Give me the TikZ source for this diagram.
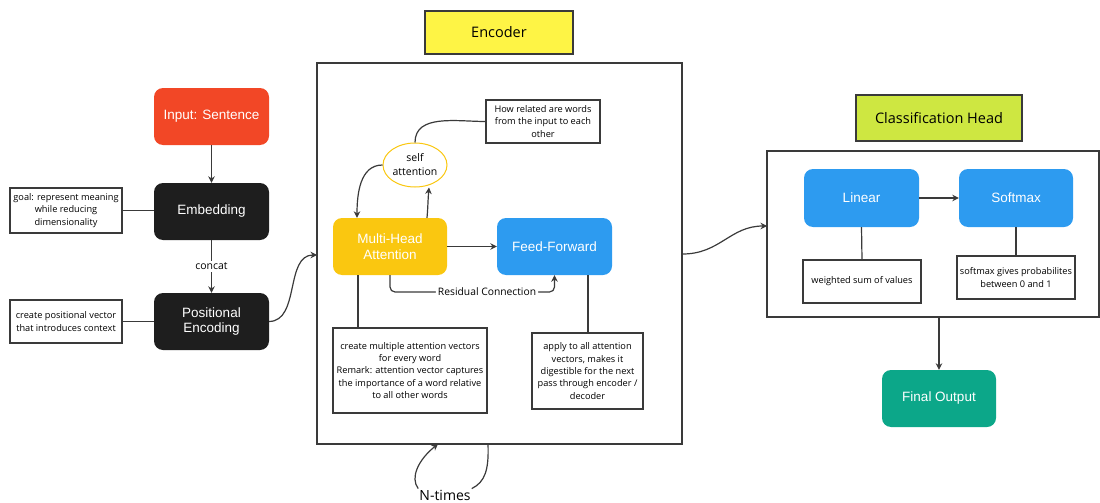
\documentclass[tikz,border=0pt]{standalone}
\usepackage{fontspec}
\setmainfont{Liberation Sans}
\newfontfamily\notefont{Open Sans}
\usetikzlibrary{arrows.meta,shapes.geometric,positioning}

\definecolor{inred}{HTML}{F24726}
\definecolor{darkbox}{HTML}{1E1E1E}
\definecolor{mhyellow}{HTML}{FAC710}
\definecolor{ffblue}{HTML}{2D9BF0}
\definecolor{outgreen}{HTML}{0CA789}
\definecolor{enctitle}{HTML}{FEF445}
\definecolor{chtitle}{HTML}{CEE741}
\definecolor{linegray}{HTML}{3A3A3A}

\tikzset{
  block/.style={rounded corners=9pt, minimum width=115pt, minimum height=57pt,
    align=center, text=white, font=\fontsize{13.5}{15.5}\selectfont, inner sep=2pt},
  note/.style={draw=linegray, line width=1.1pt, fill=white, align=center,
    font=\notefont\fontsize{9.2}{12.3}\selectfont, inner sep=2pt},
  titlebox/.style={draw=linegray, line width=1.1pt, align=center,
    font=\notefont\fontsize{14.5}{17}\selectfont},
  frame/.style={draw=linegray, line width=1.3pt},
  link/.style={draw=linegray, line width=1.2pt},
  arr/.style={link, -{Stealth[length=6.5pt,width=6.5pt]}},
}

\begin{document}
\begin{tikzpicture}[x=1pt,y=-1pt]
\useasboundingbox (0,0) rectangle (1100,503);

% input pipeline
\node[block, fill=inred] (input) at (211.5,116.5) {Input: Sentence};
\node[block, fill=darkbox] (embed) at (211.5,211.5) {Embedding};
\node[block, fill=darkbox] (posenc) at (211.5,321.5) {Positional\\Encoding};
\node[note, minimum width=112pt, minimum height=45pt] (goalnote) at (66,210.5)
  {goal: represent meaning\\while reducing\\dimensionality};
\node[note, minimum width=112pt, minimum height=43pt] (posnote) at (66,321.5)
  {create positional vector\\that introduces context};

\draw[arr] (input) -- (embed);
\draw[arr] (embed) -- node[fill=white, font=\notefont\fontsize{10.5}{12}\selectfont, inner sep=2pt] {concat} (posenc);
\draw[link] (goalnote.east) -- (goalnote.east -| embed.west);
\draw[link] (posnote.east) -- (posnote.east -| posenc.west);

% encoder
\node[titlebox, fill=enctitle, minimum width=148pt, minimum height=43pt] (enctitle) at (499,32.5) {Encoder};
\node[frame, minimum width=365pt, minimum height=381pt, inner sep=0pt] (encbox) at (499.5,253.5) {};
\coordinate (encin) at (317,255);
\draw[arr] (posenc.east) .. controls (300,321) and (285,255) .. (encin);

\node[block, fill=mhyellow, minimum width=114pt] (mha) at (390,246.5) {Multi-Head\\Attention};
\node[block, fill=ffblue] (ff) at (554.5,246.5) {Feed-Forward};
\node[ellipse, draw=mhyellow, line width=1pt, fill=white, minimum width=64pt, minimum height=44pt,
  inner sep=0pt, align=center, font=\notefont\fontsize{10.5}{14}\selectfont] (self) at (415,165) {self\\attention};
\node[note, minimum width=114pt, minimum height=43pt] (relnote) at (543,121.5)
  {How related are words\\from the input to each\\other};
\node[note, minimum width=154pt, minimum height=85pt] (mhanote) at (410,370.5)
  {create multiple attention vectors\\for every word\\Remark: attention vector captures\\the importance of a word relative\\to all other words};
\node[note, minimum width=111pt, minimum height=76pt] (ffnote) at (587.5,371)
  {apply to all attention\\vectors, makes it\\digestible for the next\\pass through encoder /\\decoder};

\draw[arr] (mha) -- (ff);
\draw[link] (self.north) to[out=90, in=180] (relnote.west);
\draw[arr] (self.west) to[out=180, in=90] (mha.north -| 357,0);
\draw[arr] (mha.north -| 427,0) to[out=85, in=-95] (self.south -| 429,0);
\coordinate (resid) at (0,292);
\draw[arr, rounded corners=5pt] (mha.south) -- (mha.south |- resid)
  -- node[pos=0.59, fill=white, inner sep=2pt, font=\notefont\fontsize{10.3}{12}\selectfont] {Residual Connection}
  (ff.south |- resid) -- (ff.south);
\draw[link] (mha.south -| 358,0) -- (mhanote.north -| 358,0);
\draw[link] (ff.south -| 588,0) -- (ffnote.north -| 588,0);

% repetition loop
\node[font=\notefont\fontsize{14}{16}\selectfont, inner sep=1pt] (ntimes) at (445,495) {N-times};
\coordinate (loopout) at (488,444);
\coordinate (loopin) at (438,444);
\draw[link] (loopout) .. controls (489,470) and (485,482) .. (ntimes.north east);
\draw[arr] (ntimes.north west) .. controls (410,478) and (418,460) .. (loopin);

% classification head
\node[titlebox, fill=chtitle, minimum width=166pt, minimum height=46pt] (chtitle) at (939,118) {Classification Head};
\node[frame, minimum width=332pt, minimum height=166pt, inner sep=0pt] (chbox) at (933,234) {};
\coordinate (chin) at (767,226);
\draw[arr] (encbox.east |- 0,254) .. controls (720,254) and (730,226) .. (chin);

\node[block, fill=ffblue, minimum height=58pt] (linear) at (861.5,198) {Linear};
\node[block, fill=ffblue, minimum width=114pt, minimum height=58pt] (softmax) at (1016,198) {Softmax};
\node[note, minimum width=118pt, minimum height=43pt] (linnote) at (862,281.5) {weighted sum of values};
\node[note, minimum width=118pt, minimum height=43pt] (softnote) at (1016,277.5)
  {softmax gives probabilites\\between 0 and 1};
\draw[arr] (linear) -- (softmax);
\draw[link] (linear.south) -- (linnote.north);
\draw[link] (softmax.south) -- (softnote.north);

\node[block, fill=outgreen, minimum width=114pt] (final) at (939,398.5) {Final Output};
\draw[arr] (chbox.south -| final.north) -- (final.north);
\end{tikzpicture}
\end{document}
